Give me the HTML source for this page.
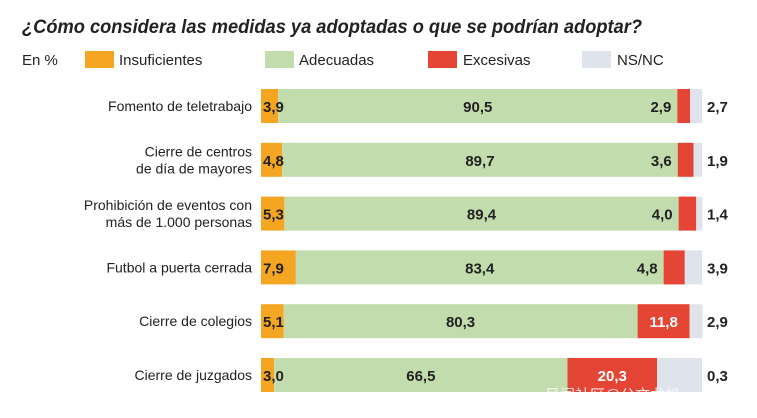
<!DOCTYPE html>
<html><head><meta charset="utf-8">
<style>
html,body{margin:0;padding:0;background:#fff;}
body{width:757px;height:418px;overflow:hidden;position:relative;font-family:"Liberation Sans","Noto Sans CJK SC",sans-serif;}
svg{position:absolute;left:0;top:0;}
</style></head>
<body>
<svg id="chart" width="757" height="418">
<text x="22" y="33" font-size="19" font-weight="bold" font-style="italic" fill="#222" textLength="620" lengthAdjust="spacingAndGlyphs">¿Cómo considera las medidas ya adoptadas o que se podrían adoptar?</text>
<text x="22" y="65" font-size="15" fill="#222">En %</text>
<g>
<rect x="85" y="51" width="29" height="17" fill="#f4a623"/>
<text x="119" y="65" font-size="15" fill="#222">Insuficientes</text>
<rect x="265" y="51" width="29" height="17" fill="#c3dcad"/>
<text x="299" y="65" font-size="15" fill="#222">Adecuadas</text>
<rect x="428" y="51" width="29" height="17" fill="#e54535"/>
<text x="463" y="65" font-size="15" fill="#222">Excesivas</text>
<rect x="582" y="51" width="29" height="17" fill="#dfe4ec"/>
<text x="617" y="65" font-size="15" fill="#222">NS/NC</text>
</g>
<g id="bars"></g>
<text x="545" y="400" font-size="15" fill="#ffffff" opacity="0.85">风闻社区@公文龙机</text>
</svg>
<script>
const categories = [["Fomento de teletrabajo"],["Cierre de centros","de día de mayores"],["Prohibición de eventos con","más de 1.000 personas"],["Futbol a puerta cerrada"],["Cierre de colegios"],["Cierre de juzgados"]];
const insuficientes = [3.9,4.8,5.3,7.9,5.1,3.0];
const adecuadas = [90.5,89.7,89.4,83.4,80.3,66.5];
const excesivas = [2.9,3.6,4.0,4.8,11.8,20.3];
const nsnc = [2.7,1.9,1.4,3.9,2.9,0.3];

const X0 = 261, W = 441, Y0 = 106, STEP = 53.8, BH = 34;
const xs = v => v / 100 * W;
const ns = "http://www.w3.org/2000/svg";
const g = document.getElementById('bars');
const fmt = v => v.toFixed(1).replace('.', ',');
function el(tag, attrs){ const e = document.createElementNS(ns, tag); for (const k in attrs) e.setAttribute(k, attrs[k]); return e; }
function txt(x, y, s, size, anchor, weight, fill){ const t = el('text', {x:x, y:y, 'font-size':size, 'text-anchor':anchor, 'font-weight':weight, fill:fill}); t.textContent = s; return t; }

categories.forEach((cat, i) => {
  const cy = Y0 + i * STEP, top = cy - BH/2;
  const row = el('g', {});
  
  
  // category label
  cat.forEach((line, j) => {
    const ly = cy + 5 + (j - (cat.length-1)/2) * 17;
    const t = txt(252, ly, line, 14, 'end', 'normal', '#222');
    
    
    row.appendChild(t);
  });
  let x = X0;
  const wI = xs(insuficientes[i]), wA = xs(adecuadas[i]), wE = xs(excesivas[i]);
  const rest = Math.max(xs(nsnc[i]), W - wI - wA - wE);
  const segs = [[wI,'#f4a623','insuficientes'],[wA,'#c3dcad','adecuadas'],[wE,'#e54535','excesivas'],[rest,'#dfe4ec','nsnc']];
  const starts = [];
  segs.forEach(s => {
    starts.push(x);
    const r = el('rect', {x:x, y:top, width:s[0], height:BH, fill:s[1]});
    
    
    row.appendChild(r);
    x += s[0];
  });
  const ty = cy + 6;
  const labels = [];
  labels.push(txt(X0 + 2, ty, fmt(insuficientes[i]), 15, 'start', 'bold', '#222'));
  labels.push(txt(starts[1] + wA/2, ty, fmt(adecuadas[i]), 15, 'middle', 'bold', '#222'));
  if (wE > 40) labels.push(txt(starts[2] + wE/2, ty, fmt(excesivas[i]), 15, 'middle', 'bold', '#fff'));
  else labels.push(txt(starts[2] - 6, ty, fmt(excesivas[i]), 15, 'end', 'bold', '#222'));
  labels.push(txt(X0 + W + 5, ty, fmt(nsnc[i]), 15, 'start', 'bold', '#222'));
  labels.forEach(t => {
    
    
    row.appendChild(t);
  });
  g.appendChild(row);
});
</script>
</body></html>
